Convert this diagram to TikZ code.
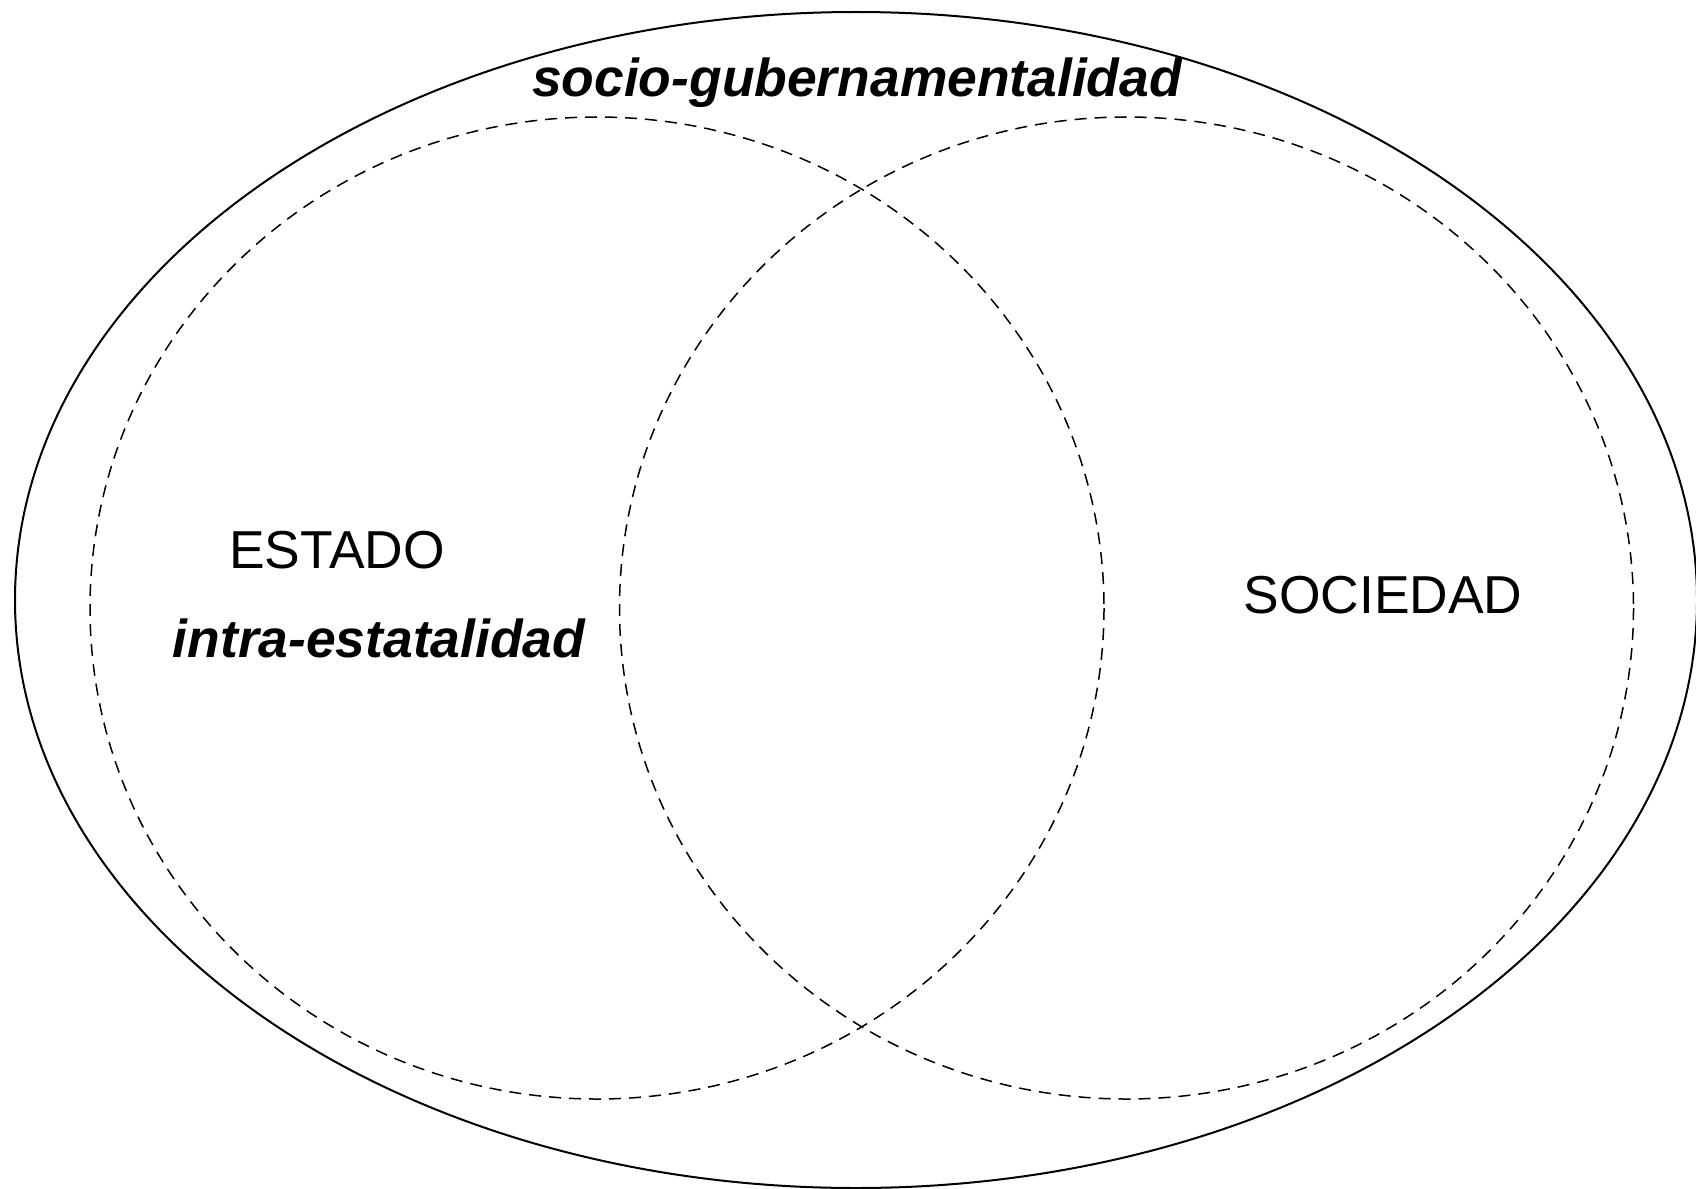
\documentclass[tikz,border=0pt]{standalone}
\usepackage{fontspec}
\setmainfont{Liberation Sans}
\begin{document}
\begin{tikzpicture}[x=0.5pt,y=-0.5pt,
  lbl/.style={inner sep=0pt,anchor=base,font=\fontsize{26.7pt}{30pt}\selectfont},
  emph/.style={lbl,font=\fontsize{26.7pt}{30pt}\selectfont\bfseries\itshape},
  setc/.style={draw=black,line width=0.75pt,dash pattern=on 6pt off 4pt}]
\useasboundingbox (0,0) rectangle (1696,1188);
\draw[line width=1pt] (856,600) ellipse [x radius=841, y radius=588];
\draw[setc] (597,608) ellipse [x radius=507, y radius=491];
\draw[setc] (1126.5,608) ellipse [x radius=507, y radius=491];
\node[emph] (sg) at (857,97) {socio-gubernamentalidad};
\node[lbl] (est) at (337,568) {ESTADO};
\node[emph] (ie) at (379,657) {intra-estatalidad};
\node[lbl] (soc) at (1383,613) {SOCIEDAD};
\end{tikzpicture}
\end{document}
